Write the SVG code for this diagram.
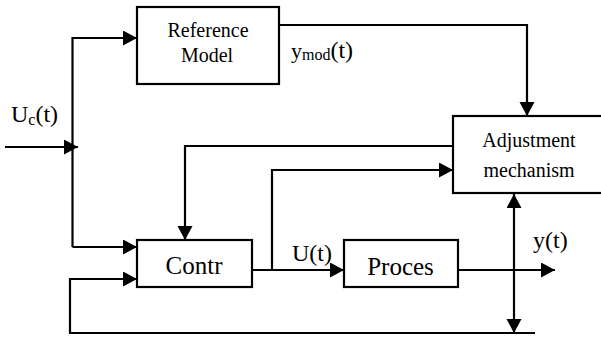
<svg xmlns="http://www.w3.org/2000/svg" width="601" height="337" viewBox="0 0 601 337" font-family="Times New Roman">
<defs>
<marker id="ah" markerUnits="userSpaceOnUse" markerWidth="15" markerHeight="16" refX="14" refY="7.5" orient="auto-start-reverse">
<path d="M0,0 L14,7.5 L0,15 Z" fill="#000"/>
</marker>
</defs>
<g id="connectors" fill="none" stroke="#000" stroke-width="2.2">
<path d="M5,147 H78" marker-end="url(#ah)"/>
<path d="M72.5,247 V38 H137" marker-end="url(#ah)"/>
<path d="M72.5,247 H137" marker-end="url(#ah)"/>
<path d="M279,25 H527 V116" marker-end="url(#ah)"/>
<path d="M463,146 H185 V240" marker-end="url(#ah)"/>
<path d="M248,270 H344" marker-end="url(#ah)"/>
<path d="M272,270 V170 H453" marker-end="url(#ah)"/>
<path d="M454,270 H555" marker-end="url(#ah)"/>
<path d="M514,194 V333" marker-start="url(#ah)" marker-end="url(#ah)"/>
<path d="M535,333 H70 V279 H137" marker-end="url(#ah)"/>
</g>
<g id="reference-model" font-family="Times New Roman">
<rect x="137" y="7" width="142" height="77" fill="#fff" stroke="#000" stroke-width="2.2"/>
<text x="208" y="37" font-size="20" font-family="Times New Roman" text-anchor="middle">Reference</text>
<text x="207" y="62" font-size="20" font-family="Times New Roman" text-anchor="middle">Model</text>
</g>
<g id="adjustment-mechanism" font-family="Times New Roman">
<rect x="453" y="116" width="150" height="77" fill="#fff" stroke="#000" stroke-width="2.2"/>
<text x="529" y="147" font-size="20" font-family="Times New Roman" text-anchor="middle">Adjustment</text>
<text x="529" y="177" font-size="20" font-family="Times New Roman" text-anchor="middle">mechanism</text>
</g>
<g id="controller" font-family="Times New Roman">
<rect x="137" y="240" width="115" height="47" fill="#fff" stroke="#000" stroke-width="2.2"/>
<text x="194" y="274" font-size="25" font-family="Times New Roman" text-anchor="middle">Contr</text>
</g>
<g id="process" font-family="Times New Roman">
<rect x="344" y="240" width="114" height="47" fill="#fff" stroke="#000" stroke-width="2.2"/>
<text x="400.5" y="275" font-size="25" font-family="Times New Roman" text-anchor="middle">Proces</text>
</g>
<g id="labels" font-family="Times New Roman">
<text x="11" y="122" font-size="24" font-family="Times New Roman">U<tspan font-size="16" dy="3">c</tspan><tspan dy="-3">(t)</tspan></text>
<text x="291" y="58" font-size="22" font-family="Times New Roman">y<tspan font-size="16" dy="2">mod</tspan><tspan font-size="24" dy="-2">(t)</tspan></text>
<text x="292" y="261" font-size="24" font-family="Times New Roman">U(t)</text>
<text x="533" y="248" font-size="24" font-family="Times New Roman">y(t)</text>
</g>
</svg>
